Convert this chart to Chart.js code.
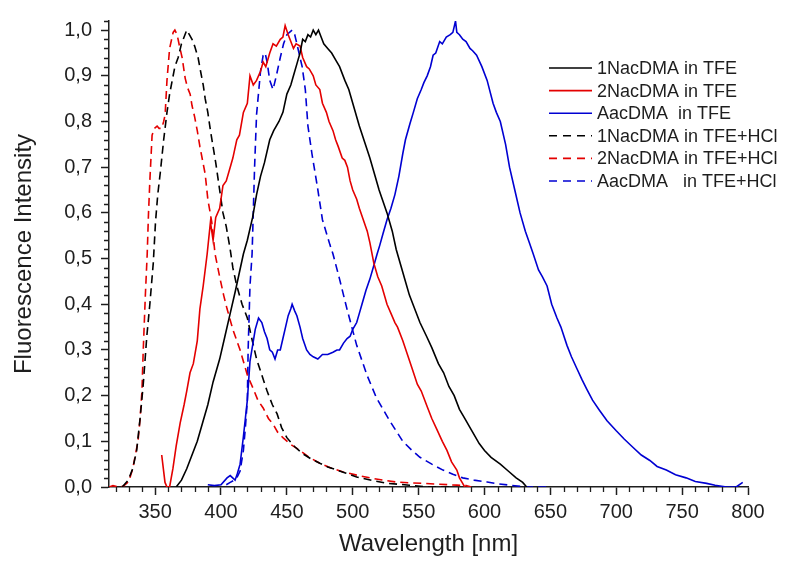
<!DOCTYPE html>
<html>
<head>
<meta charset="utf-8">
<title>Fluorescence spectra</title>
<script src="https://cdn.jsdelivr.net/npm/chart.js@4.4.1/dist/chart.umd.min.js"></script>
<style>
    body { margin: 0; background: #fff; }
    #wrap { width: 786px; height: 567px; position: relative; }
</style>
</head>
<body>
<div id="wrap"><canvas id="spectraChart"></canvas></div>
<script>
// Wavelength [nm] / intensity pairs
const nacTfeX = [366, 370, 374, 378, 382, 386, 390, 394, 399, 403, 407, 411, 414, 417, 420, 424, 427, 430, 433, 437, 440, 444, 447, 450, 453, 455, 458, 460, 462, 464, 466, 468, 470, 472, 474, 476, 478, 481, 484, 487, 490, 494, 497, 501, 505, 509, 513, 517, 520, 523, 526, 530, 533, 537, 540, 543, 547, 551, 556, 560, 565, 569, 573, 577, 581, 585, 590, 596, 600, 605, 612, 618, 624, 629, 632];
const nacTfeY = [0, 0.015, 0.04, 0.07, 0.10, 0.14, 0.18, 0.23, 0.28, 0.33, 0.38, 0.43, 0.47, 0.51, 0.54, 0.59, 0.64, 0.68, 0.71, 0.76, 0.78, 0.80, 0.82, 0.86, 0.88, 0.90, 0.93, 0.95, 0.98, 0.975, 0.99, 0.985, 1.0, 0.99, 1.0, 0.985, 0.97, 0.96, 0.95, 0.935, 0.92, 0.89, 0.87, 0.83, 0.79, 0.755, 0.72, 0.68, 0.65, 0.625, 0.60, 0.56, 0.52, 0.48, 0.45, 0.42, 0.39, 0.36, 0.33, 0.305, 0.27, 0.25, 0.22, 0.20, 0.17, 0.15, 0.125, 0.095, 0.08, 0.065, 0.05, 0.035, 0.02, 0.01, 0];

const nac2TfeX = [355, 357.5, 359, 361, 363.5, 366, 369, 372, 374, 376.5, 379, 382, 384, 386.5, 389.5, 392, 394, 396, 399, 401.5, 404, 407, 409, 412, 414, 417, 420, 422, 424.5, 427, 430, 432, 434, 437, 439.5, 442, 445, 447, 448.7, 451, 453, 455, 457, 460, 462, 465, 467, 470, 472, 475, 477, 480, 482, 485, 487, 489, 492, 494, 496, 498, 500, 503, 505, 508, 511, 513, 516, 519, 522, 526, 529, 532, 534, 538, 541.5, 545, 549, 552, 556.6, 560, 564, 568, 571.5, 575, 579, 581, 583, 585];
const nac2TfeY = [0.07, 0.01, 0, 0, 0.04, 0.09, 0.14, 0.18, 0.21, 0.25, 0.27, 0.32, 0.39, 0.44, 0.51, 0.58, 0.54, 0.59, 0.61, 0.66, 0.67, 0.70, 0.72, 0.76, 0.77, 0.82, 0.84, 0.90, 0.88, 0.89, 0.91, 0.93, 0.92, 0.95, 0.97, 0.965, 0.98, 0.985, 1.01, 0.99, 0.975, 0.96, 0.97, 0.965, 0.94, 0.92, 0.915, 0.90, 0.88, 0.87, 0.84, 0.82, 0.80, 0.78, 0.76, 0.745, 0.72, 0.715, 0.70, 0.67, 0.65, 0.63, 0.61, 0.585, 0.56, 0.535, 0.49, 0.46, 0.44, 0.40, 0.38, 0.36, 0.35, 0.32, 0.29, 0.26, 0.225, 0.21, 0.175, 0.15, 0.125, 0.10, 0.08, 0.055, 0.037, 0.02, 0.01, 0];

const aacTfeX = [390, 395, 400, 404.6, 407, 410.7, 412.5, 414.5, 417, 418.5, 420, 422, 424, 426, 428.5, 431, 433, 435, 437, 439, 441, 443, 445, 447, 449, 451, 453, 454, 456, 457.6, 460, 462, 465, 467.5, 470, 473.5, 477, 481, 485, 488, 490, 493, 495.7, 498, 500, 503, 505, 507, 510, 513, 516, 518.5, 520.6, 523, 526, 529, 532, 535, 538, 540, 543.4, 546, 549, 552, 554, 556.5, 559, 561, 563, 566, 568, 571, 574, 576, 578, 579, 581, 583.5, 586, 589, 591, 594, 598, 602, 606.5, 609, 612, 616, 619, 623, 627, 631, 634, 637, 641, 644, 647.5, 651, 655, 658, 662.6, 666, 670, 674, 677.5, 682, 687.5, 693, 700, 706, 712.6, 719, 725.5, 731, 738, 745, 753, 760, 768.6, 775, 783.7, 791, 796];
const aacTfeY = [0.005, 0.003, 0.005, 0.02, 0.025, 0.015, 0.03, 0.05, 0.11, 0.15, 0.19, 0.275, 0.31, 0.345, 0.37, 0.36, 0.34, 0.325, 0.30, 0.295, 0.28, 0.30, 0.30, 0.325, 0.35, 0.375, 0.39, 0.40, 0.385, 0.375, 0.35, 0.325, 0.30, 0.29, 0.285, 0.28, 0.29, 0.29, 0.295, 0.30, 0.30, 0.315, 0.325, 0.33, 0.345, 0.36, 0.38, 0.40, 0.43, 0.455, 0.485, 0.51, 0.53, 0.555, 0.585, 0.61, 0.64, 0.68, 0.73, 0.76, 0.795, 0.82, 0.85, 0.87, 0.885, 0.90, 0.92, 0.945, 0.95, 0.975, 0.97, 0.985, 0.99, 0.995, 1.02, 0.995, 0.99, 0.98, 0.975, 0.96, 0.955, 0.945, 0.92, 0.89, 0.84, 0.82, 0.80, 0.75, 0.70, 0.65, 0.60, 0.56, 0.535, 0.51, 0.475, 0.46, 0.44, 0.40, 0.37, 0.35, 0.31, 0.285, 0.26, 0.235, 0.215, 0.19, 0.167, 0.145, 0.123, 0.105, 0.087, 0.07, 0.058, 0.045, 0.037, 0.027, 0.02, 0.012, 0.008, 0.004, 0, 0, 0.01];

const nacHclX = [325, 329.6, 333, 336, 338.6, 341, 343.7, 346, 348.6, 350.3, 352, 354, 356.5, 359, 361, 363, 365, 367.5, 370, 372, 374, 376, 378, 380, 382.6, 384.5, 386.5, 388, 390, 392, 394, 396, 398, 401.5, 404, 407, 409, 412, 416, 420, 423, 427, 431, 435, 439, 442.6, 446, 450, 456, 462, 468, 475, 481, 488, 495, 503, 515, 526, 543, 556, 575];
const nacHclY = [0, 0.015, 0.04, 0.08, 0.15, 0.225, 0.33, 0.40, 0.49, 0.58, 0.64, 0.69, 0.76, 0.82, 0.86, 0.89, 0.92, 0.94, 0.97, 0.985, 1.0, 0.99, 0.98, 0.965, 0.94, 0.91, 0.88, 0.85, 0.82, 0.78, 0.745, 0.71, 0.67, 0.60, 0.57, 0.52, 0.48, 0.44, 0.40, 0.37, 0.33, 0.28, 0.245, 0.21, 0.18, 0.16, 0.13, 0.108, 0.088, 0.073, 0.062, 0.052, 0.044, 0.037, 0.03, 0.022, 0.014, 0.008, 0.004, 0, 0];

const nac2HclX = [315, 318, 322, 326, 330, 333, 335, 337, 338.6, 340, 341, 342.6, 344, 345, 346, 347.7, 349.5, 351.5, 353, 355, 356.5, 357.6, 359, 361, 363.7, 365, 366.7, 368.5, 370.5, 372.8, 374.5, 376.6, 378, 380, 382, 384, 386, 388, 390, 393, 395.5, 399, 402, 404.6, 409, 414.5, 420, 424.5, 428, 432, 436, 439.5, 443, 447, 453, 460, 467, 475, 483, 492.7, 503, 513, 523, 533, 543, 553, 566, 579, 586, 590];
const nac2HclY = [0, 0.003, 0, 0.002, 0.012, 0.04, 0.07, 0.10, 0.15, 0.21, 0.30, 0.42, 0.51, 0.60, 0.67, 0.77, 0.785, 0.79, 0.785, 0.785, 0.80, 0.815, 0.89, 0.96, 0.995, 1.0, 0.99, 0.965, 0.94, 0.895, 0.875, 0.86, 0.835, 0.81, 0.78, 0.745, 0.715, 0.685, 0.63, 0.58, 0.51, 0.46, 0.42, 0.39, 0.345, 0.30, 0.245, 0.215, 0.19, 0.173, 0.15, 0.138, 0.12, 0.108, 0.093, 0.08, 0.065, 0.052, 0.042, 0.033, 0.026, 0.02, 0.015, 0.011, 0.009, 0.008, 0.006, 0.004, 0.003, 0];

const aacHclX = [404, 407, 410, 412, 414.5, 417, 418.5, 420, 420.6, 422, 423.6, 424.5, 425.5, 427, 430, 432, 433.5, 435, 437, 439.5, 442, 445, 447.5, 450, 454, 456, 457.6, 460, 461.6, 464, 466, 469, 473, 477, 482.7, 485, 490, 495.6, 503, 510.8, 518, 528, 538, 545, 551, 560, 568.5, 576, 583.5, 592, 602, 610, 619, 632, 650];
const aacHclY = [0.005, 0.01, 0.015, 0.02, 0.035, 0.08, 0.13, 0.19, 0.30, 0.44, 0.51, 0.60, 0.70, 0.815, 0.91, 0.945, 0.95, 0.93, 0.89, 0.87, 0.90, 0.94, 0.97, 0.99, 1.0, 0.99, 0.97, 0.94, 0.92, 0.87, 0.79, 0.73, 0.66, 0.585, 0.53, 0.51, 0.455, 0.39, 0.31, 0.245, 0.195, 0.145, 0.10, 0.08, 0.065, 0.05, 0.037, 0.028, 0.02, 0.015, 0.011, 0.007, 0.004, 0, 0];

const seriesLabels = ['1NacDMA in TFE', '2NacDMA in TFE', 'AacDMA  in TFE', '1NacDMA in TFE+HCl', '2NacDMA in TFE+HCl', 'AacDMA   in TFE+HCl'];
const seriesX = [nacTfeX, nac2TfeX, aacTfeX, nacHclX, nac2HclX, aacHclX];
const seriesY = [nacTfeY, nac2TfeY, aacTfeY, nacHclY, nac2HclY, aacHclY];

const xTicks = [350, 400, 450, 500, 550, 600, 650, 700, 750, 800];
const yTicks = [0, 0.1, 0.2, 0.3, 0.4, 0.5, 0.6, 0.7, 0.8, 0.9, 1.0];

const colors = ['#000000', '#e40000', '#0000d2', '#000000', '#e40000', '#0000d2'];
const dashes = [[], [], [], [8, 5], [8, 5], [8, 5]];
const FONT = '"Liberation Sans", Arial, sans-serif';
const INK = '#1e1e1e';

// build the datasets from the arrays above
const datasets = seriesLabels.map((label, i) => ({
    label: label,
    data: seriesX[i].map((x, k) => ({ x: x, y: seriesY[i][k] })),
    borderColor: colors[i],
    borderWidth: 1.6,
    borderDash: dashes[i],
    pointRadius: 0,
    tension: 0,
    fill: false
}));

// minor ticks (10 nm and 0.02) and the legend box inside the plot
const extrasPlugin = {
    id: 'extras',
    afterDraw(chart) {
        const ctx = chart.ctx;
        const xs = chart.scales.x;
        const ys = chart.scales.y;
        const area = chart.chartArea;
        ctx.save();
        ctx.strokeStyle = INK;
        ctx.lineWidth = 1.3;
        ctx.beginPath();
        for (let v = 320; v <= 800; v += 10) {
            if (v % 50 === 0) continue;
            const px = Math.round(xs.getPixelForValue(v)) + 0.5;
            ctx.moveTo(px, area.bottom);
            ctx.lineTo(px, area.bottom + 5);
        }
        for (let k = 1; k <= 51; k++) {
            if (k % 5 === 0) continue;
            const py = Math.round(ys.getPixelForValue(k * 0.02)) + 0.5;
            ctx.moveTo(area.left, py);
            ctx.lineTo(area.left - 5, py);
        }
        ctx.stroke();

        // legend
        ctx.font = '18px ' + FONT;
        ctx.textBaseline = 'middle';
        ctx.textAlign = 'left';
        chart.data.datasets.forEach((ds, i) => {
            const y = 68 + i * 22.6;
            ctx.strokeStyle = ds.borderColor;
            ctx.lineWidth = 1.6;
            ctx.setLineDash(ds.borderDash.length ? [8, 6] : []);
            ctx.beginPath();
            ctx.moveTo(549, y);
            ctx.lineTo(592, y);
            ctx.stroke();
            ctx.setLineDash([]);
            ctx.fillStyle = INK;
            ctx.fillText(ds.label, 597, y + 1);
        });
        ctx.restore();
    }
};

new Chart(document.getElementById('spectraChart').getContext('2d'), {
    type: 'line',
    data: { datasets: datasets },
    options: {
        responsive: true,
        maintainAspectRatio: false,
        animation: false,
        layout: { padding: { left: 0, right: 38, top: 16, bottom: 0 } },
        plugins: {
            legend: { display: false },
            tooltip: { enabled: false }
        },
        scales: {
            x: {
                type: 'linear',
                min: 315,
                max: 800,
                afterFit: scale => { scale.height = 80; },
                afterBuildTicks: scale => { scale.ticks = xTicks.map(v => ({ value: v })); },
                ticks: {
                    includeBounds: false,
                    padding: 5,
                    color: INK,
                    font: { family: FONT, size: 20 }
                },
                grid: { drawOnChartArea: false, tickLength: 8, tickColor: INK, tickWidth: 1.5 },
                border: { color: INK, width: 1.5 },
                title: {
                    display: true,
                    text: 'Wavelength [nm]',
                    color: INK,
                    font: { family: FONT, size: 24 },
                    padding: { top: 0, bottom: 8 }
                }
            },
            y: {
                type: 'linear',
                min: 0,
                max: 1.02,
                afterFit: scale => { scale.width = 109; },
                afterBuildTicks: scale => { scale.ticks = yTicks.map(v => ({ value: v })); },
                ticks: {
                    includeBounds: false,
                    padding: 9,
                    color: INK,
                    font: { family: FONT, size: 20 },
                    callback: v => v.toFixed(1).replace('.', ',')
                },
                grid: { drawOnChartArea: false, tickLength: 8, tickColor: INK, tickWidth: 1.5 },
                border: { color: INK, width: 1.5 },
                title: {
                    display: true,
                    text: 'Fluorescence Intensity',
                    color: INK,
                    font: { family: FONT, size: 24 },
                    padding: { top: 10, bottom: 0 }
                }
            }
        }
    },
    plugins: [extrasPlugin]
});
</script>
</body>
</html>
